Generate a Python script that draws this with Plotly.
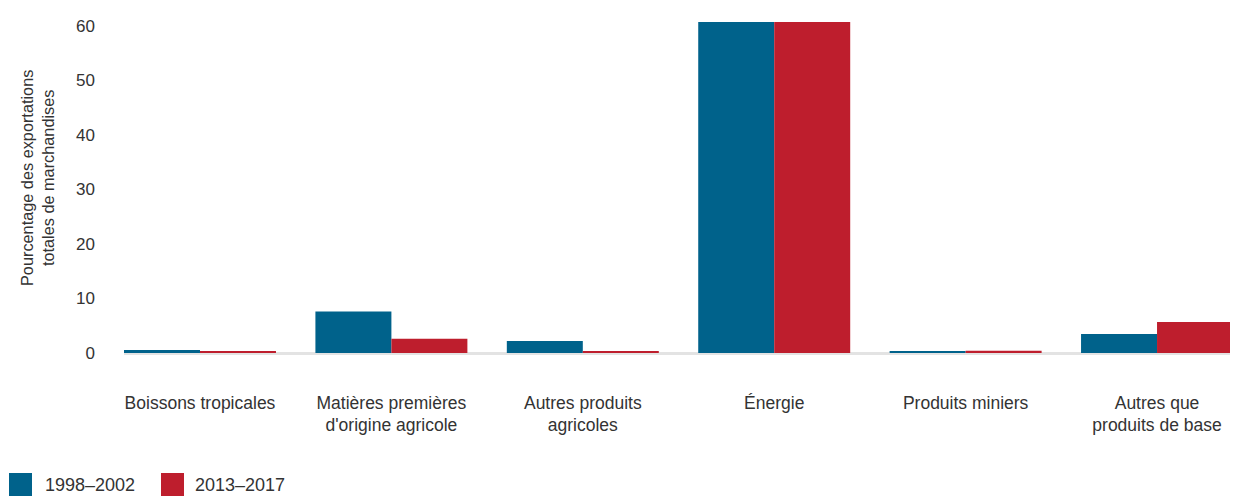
import plotly.graph_objects as go

categories = [
    "Boissons tropicales",
    "Matières premières<br>d'origine agricole",
    "Autres produits<br>agricoles",
    "Énergie",
    "Produits miniers",
    "Autres que<br>produits de base",
]
series_names = ["1998–2002", "2013–2017"]
values_1998_2002 = [0.55, 7.6, 2.2, 60.7, 0.2, 3.5]
values_2013_2017 = [0.25, 2.6, 0.25, 60.7, 0.4, 5.7]
y_ticks = [0, 10, 20, 30, 40, 50, 60]
y_title = "Pourcentage des exportations<br>totales de marchandises"

BLUE = "#00628B"
RED = "#BE1E2D"
TEXT = "#333333"

OFF = 8  # page body margin
W, H = 1238 - OFF, 496 - OFF
L, R, T = 124 - OFF, 0, 22 - OFF
B = H - (353 - OFF)
PW, PH = W - L - R, H - T - B


def px_x(p):
    return (p - OFF - L) / PW


def px_y(p):
    return (H - B - (p - OFF)) / PH


fig = go.Figure()
fig.add_trace(go.Bar(x=categories, y=values_1998_2002, name=series_names[0],
                     marker=dict(color=BLUE, line=dict(width=0)), showlegend=False))
fig.add_trace(go.Bar(x=categories, y=values_2013_2017, name=series_names[1],
                     marker=dict(color=RED, line=dict(width=0)), showlegend=False))

fig.update_layout(
    width=W, height=H,
    margin=dict(l=L, r=R, t=T, b=B, autoexpand=False),
    paper_bgcolor="white", plot_bgcolor="white",
    barmode="group", bargap=0.206, bargroupgap=0,
    font=dict(family="Liberation Sans, Arial, sans-serif", color=TEXT, size=17),
    xaxis=dict(
        type="category", range=[-0.397, 5.423], showgrid=False, showline=False,
        ticks="", tickfont=dict(size=17.5, color=TEXT), ticklabelstandoff=37,
        automargin=False, tickangle=0,
    ),
    yaxis=dict(
        range=[0, 60.7], tickvals=y_ticks, showgrid=False, showline=False,
        zeroline=True, zerolinecolor="#e3e3e3", zerolinewidth=3,
        ticks="", tickfont=dict(size=17, color=TEXT),
        ticklabelstandoff=28, automargin=False,
    ),
)

fig.add_annotation(
    text=y_title, xref="paper", yref="paper", x=px_x(37), y=px_y(178),
    xanchor="center", yanchor="middle", textangle=-90, showarrow=False,
    font=dict(size=16.3, color=TEXT),
)

legend_items = [(series_names[0], BLUE, 9, 43), (series_names[1], RED, 161, 193)]
for name, color, sx, tx in legend_items:
    fig.add_shape(type="rect", xref="paper", yref="paper",
                  x0=px_x(sx), x1=px_x(sx + 23), y0=px_y(496), y1=px_y(473),
                  fillcolor=color, line=dict(width=0))
    fig.add_annotation(text=name, xref="paper", yref="paper", x=px_x(tx), y=px_y(485),
                       xanchor="left", yanchor="middle", showarrow=False,
                       font=dict(size=18, color=TEXT))

fig.write_html("out.html")
